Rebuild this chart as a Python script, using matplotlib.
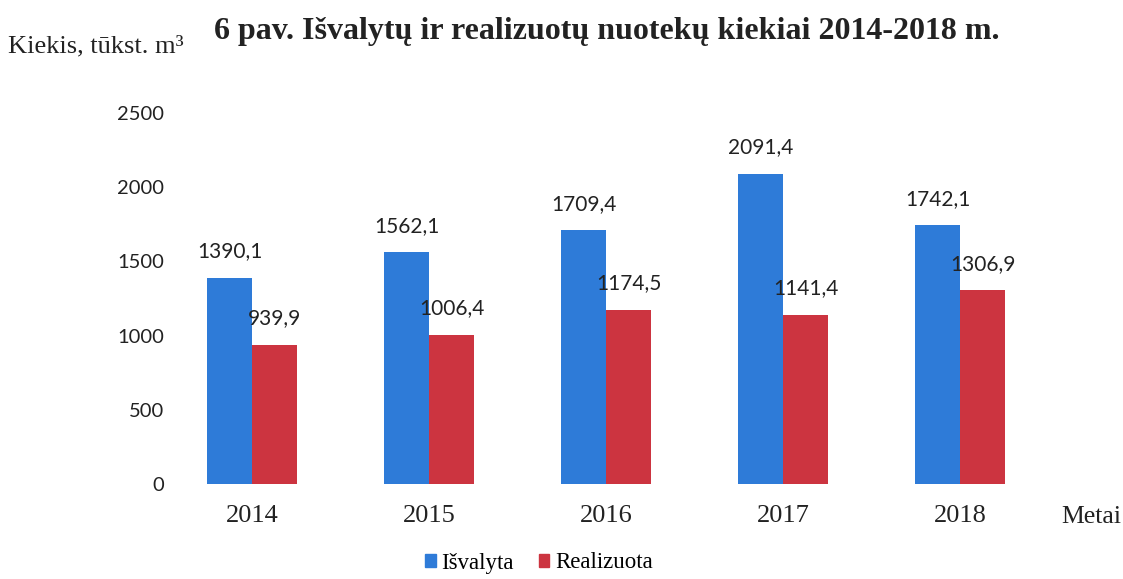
import numpy as np
import matplotlib
matplotlib.use('Agg')
import matplotlib.pyplot as plt
from matplotlib.patches import Patch

years = ['2014', '2015', '2016', '2017', '2018']
isvalyta = [1390.1, 1562.1, 1709.4, 2091.4, 1742.1]
realizuota = [939.9, 1006.4, 1174.5, 1141.4, 1306.9]
series_names = ['Išvalyta', 'Realizuota']
yticks = [0, 500, 1000, 1500, 2000, 2500]

blue = '#2E7BD8'
red = '#CC3440'
serif = 'Liberation Serif'
sans = 'Lato'

fig = plt.figure(figsize=(11.23, 5.79), dpi=100)
ax = fig.add_axes([170 / 1123, 95 / 579, 900 / 1123, 371 / 579])

x = np.arange(len(years))
w = 0.254
ax.bar(x - w / 2, isvalyta, w, color=blue)
ax.bar(x + w / 2, realizuota, w, color=red)

# value labels above the bars
for i in range(len(years)):
    ax.text(x[i] - w / 2, isvalyta[i] + 110, f'{isvalyta[i]:.1f}'.replace('.', ','),
            ha='center', va='bottom', fontsize=15, family=sans, color='#222222')
    ax.text(x[i] + w / 2, realizuota[i] + 110, f'{realizuota[i]:.1f}'.replace('.', ','),
            ha='center', va='bottom', fontsize=15, family=sans, color='#222222')

ax.set_ylim(0, 2500)
ax.set_xlim(-0.463, 4.621)
ax.set_yticks(yticks)
ax.set_yticklabels([str(v) for v in yticks], family=sans, fontsize=14.5, color='#222222')
ax.set_xticks(x)
ax.set_xticklabels(years, family=serif, fontsize=19, color='#222222')
ax.tick_params(axis='y', length=0, pad=4)
ax.tick_params(axis='x', length=0, pad=15)
for s in ax.spines.values():
    s.set_visible(False)

fig.text(607 / 1123, 1 - 31 / 579, '6 pav. Išvalytų ir realizuotų nuotekų kiekiai 2014-2018 m.',
         ha='center', va='center', fontsize=23, fontweight='bold', family=serif, color='#222222')
fig.text(8 / 1123, 1 - 46 / 579, 'Kiekis, tūkst. m³', ha='left', va='center',
         fontsize=19, family=serif, color='#222222')
fig.text(1061 / 1123, 1 - 517 / 579, 'Metai', ha='left', va='center',
         fontsize=18.5, family=serif, color='#222222')

handles = [Patch(color=blue), Patch(color=red)]
fig.legend(handles, series_names, loc='center', bbox_to_anchor=(539 / 1123, 1 - 563 / 579),
           ncol=2, frameon=False, prop={'family': serif, 'size': 16.5},
           handlelength=0.45, handleheight=0.5, handletextpad=0.25, columnspacing=1.1)

fig.savefig('out.png', dpi=100)
